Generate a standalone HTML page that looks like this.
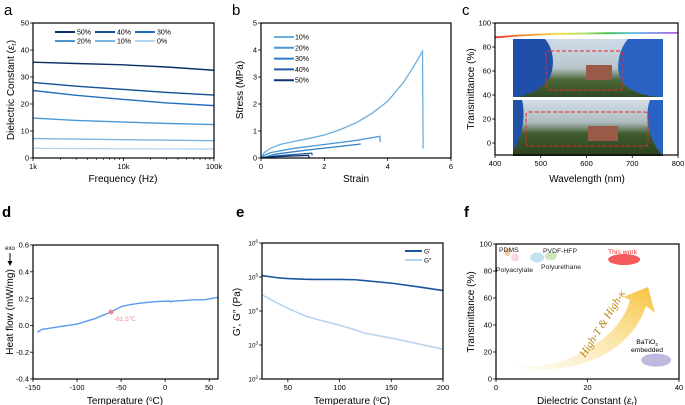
<!DOCTYPE html>
<html><head><meta charset="utf-8"><style>
html,body{margin:0;padding:0;background:#fff}
svg{display:block;font-family:"Liberation Sans",Arial,sans-serif}
</style></head><body>
<svg id="fig" width="685" height="405" viewBox="0 0 685 405" xmlns="http://www.w3.org/2000/svg">
<defs>
<linearGradient id="rainbow" x1="0" x2="1" y1="0" y2="0">
<stop offset="0" stop-color="#e8302a"/><stop offset="0.2" stop-color="#f39a2a"/><stop offset="0.35" stop-color="#f2e43a"/><stop offset="0.5" stop-color="#a8dd6a"/><stop offset="0.62" stop-color="#3fbf4a"/><stop offset="0.75" stop-color="#62c0e8"/><stop offset="0.88" stop-color="#8a8ee8"/><stop offset="1" stop-color="#b060e0"/>
</linearGradient>
<linearGradient id="photoTop" x1="0" x2="0" y1="0" y2="1">
<stop offset="0" stop-color="#cfdbe8"/><stop offset="0.5" stop-color="#b9c6cc"/><stop offset="0.7" stop-color="#4d6a3a"/><stop offset="1" stop-color="#2f4a24"/>
</linearGradient>
<linearGradient id="photoBot" x1="0" x2="0" y1="0" y2="1">
<stop offset="0" stop-color="#d3dee8"/><stop offset="0.4" stop-color="#aebbbf"/><stop offset="0.6" stop-color="#3f5c2e"/><stop offset="1" stop-color="#2a4220"/>
</linearGradient>
<linearGradient id="arrowGrad" x1="0" x2="1" y1="1" y2="0">
<stop offset="0" stop-color="#fdf3d6" stop-opacity="0.3"/><stop offset="1" stop-color="#f6c23a"/>
</linearGradient>
</defs>
<g id="root"></g>
</svg>
<script>
// ---------- data ----------
// panel a
const aFreq = [1000, 3000, 10000, 30000, 100000];
const aSeriesNames = ["50%", "40%", "30%", "20%", "10%", "0%"];
const a50 = [35.5, 35.0, 34.5, 33.7, 32.5];
const a40 = [28.0, 26.6, 25.4, 24.3, 23.3];
const a30 = [25.0, 23.2, 21.7, 20.4, 19.4];
const a20 = [14.8, 13.9, 13.3, 12.8, 12.4];
const a10 = [7.2, 7.0, 6.8, 6.6, 6.4];
const a0 = [3.6, 3.5, 3.4, 3.35, 3.3];
const aYTicks = [0, 10, 20, 30, 40, 50];
const aXTickLabels = ["1k", "10k", "100k"];
// panel b
const bNames = ["10%", "20%", "30%", "40%", "50%"];
const b10x = [0, 0.1, 0.3, 0.6, 1.0, 1.5, 2.0, 2.5, 3.0, 3.5, 4.0, 4.5, 4.8, 5.1, 5.12];
const b10y = [0, 0.2, 0.36, 0.5, 0.6, 0.72, 0.85, 1.05, 1.3, 1.65, 2.1, 2.8, 3.35, 3.95, 0.35];
const b20x = [0, 0.1, 0.3, 1.0, 2.0, 3.0, 3.75, 3.77];
const b20y = [0, 0.1, 0.2, 0.35, 0.5, 0.65, 0.8, 0.6];
const b30x = [0, 0.5, 1.5, 2.5, 3.15];
const b30y = [0, 0.15, 0.3, 0.43, 0.52];
const b40x = [0, 0.5, 1.6, 1.62];
const b40y = [0, 0.08, 0.18, 0.1];
const b50x = [0, 0.5, 1.5, 1.52];
const b50y = [0, 0.05, 0.1, 0.0];
const bXTicks = [0, 2, 4, 6];
const bYTicks = [0, 1, 2, 3, 4, 5];
// panel c
const cWave = [400, 450, 500, 550, 600, 650, 700, 750, 800];
const cTrans = [88, 89.5, 90.5, 91, 91.3, 91.5, 91.6, 91.7, 91.8];
const cXTicks = [400, 500, 600, 700, 800];
const cYTicks = [0, 20, 40, 60, 80, 100];
// panel d
const dTemp = [-145, -140, -130, -120, -100, -80, -61.5, -50, -40, -30, -10, 5, 6, 8, 20, 30, 45, 60];
const dFlow = [-0.05, -0.03, -0.02, -0.01, 0.01, 0.05, 0.1, 0.14, 0.155, 0.165, 0.178, 0.182, 0.175, 0.18, 0.185, 0.19, 0.192, 0.21];
const dTg = [-61.5, 0.1];
const dXTicks = [-150, -100, -50, 0, 50];
const dYTicks = [-0.4, -0.2, 0.0, 0.2, 0.4, 0.6];
// panel e
const eTemp = [25, 40, 50, 65, 75, 100, 115, 125, 150, 175, 200];
const eGp = [1.1e5, 9.5e4, 9e4, 8.6e4, 8.5e4, 8.5e4, 8.3e4, 7.8e4, 6.6e4, 5.2e4, 4.0e4];
const eGpp = [3e4, 1.7e4, 1.2e4, 7.5e3, 6e3, 3.8e3, 2.8e3, 2.2e3, 1.6e3, 1.1e3, 7.5e2];
const eXTicks = [50, 100, 150, 200];
const eYExp = [2, 3, 4, 5, 6];
// panel f
const fNames = ["PDMS", "Polyacrylate", "Polyurethane", "PVDF-HFP", "This work", "BaTiO3"];
const fEps = [2.5, 4.2, 9, 12, 28, 35];
const fT = [94, 90, 90, 91, 88.5, 14];
const fXTicks = [0, 20, 40];
const fYTicks = [0, 20, 40, 60, 80, 100];

// ---------- helpers ----------
const NS = "http://www.w3.org/2000/svg";
const root = document.getElementById("root");
function el(tag, attrs, parent, text) {
  const e = document.createElementNS(NS, tag);
  for (const k in attrs) e.setAttribute(k, attrs[k]);
  if (text !== undefined) e.textContent = text;
  (parent || root).appendChild(e);
  return e;
}
function lin(d0, d1, r0, r1) { return v => r0 + (v - d0) / (d1 - d0) * (r1 - r0); }
function logS(d0, d1, r0, r1) { return v => r0 + (Math.log10(v) - Math.log10(d0)) / (Math.log10(d1) - Math.log10(d0)) * (r1 - r0); }
function pathD(xs, ys, sx, sy) { return xs.map((x, i) => (i ? "L" : "M") + sx(x).toFixed(2) + "," + sy(ys[i]).toFixed(2)).join(" "); }
function frame(g, x0, y0, x1, y1) {
  const r = el("rect", {x: x0, y: y0, width: x1 - x0, height: y1 - y0, fill: "none", stroke: "#000", "stroke-width": 1.2}, g);
  
  
}
function xTick(g, x, y, label) {
  el("line", {x1: x, x2: x, y1: y, y2: y + 3, stroke: "#000", "stroke-width": 0.8}, g);
  const t = el("text", {x: x, y: y + 11, "font-size": 7.5, "text-anchor": "middle"}, g, label);
  
  
}
function yTick(g, x, y, label) {
  el("line", {x1: x - 3, x2: x, y1: y, y2: y, stroke: "#000", "stroke-width": 0.8}, g);
  const t = el("text", {x: x - 4, y: y + 2.7, "font-size": 7.5, "text-anchor": "end"}, g, label);
  
  
}
function axTitles(g, xt, xx, xy, yt, yx, yy) {
  const a = el("text", {x: xx, y: xy, "font-size": 10, "text-anchor": "middle"}, g);
  a.innerHTML = xt;
  
  
  const b = el("text", {x: 0, y: 0, "font-size": 10, "text-anchor": "middle", transform: "translate(" + yx + "," + yy + ") rotate(-90)"}, g);
  b.innerHTML = yt;
  
  
}
function letter(g, t, x, y, bold) {
  const l = el("text", {x: x, y: y, "font-size": 15, "font-weight": bold ? "bold" : "normal"}, g, t);
  
  
}

// ---------- panel a ----------
(function () {
  const g = el("g", {});
  
  
  const X0 = 33, X1 = 214, Y0 = 23, Y1 = 158;
  const sx = logS(1000, 100000, X0, X1), sy = lin(0, 50, Y1, Y0);
  letter(g, "a", 4, 15, false);
  const cols = ["#0c2f66", "#144f98", "#2370bd", "#4b97d4", "#7ab6e4", "#b5d5ef"];
  const series = [a50, a40, a30, a20, a10, a0];
  series.forEach((s, i) => {
    const p = el("path", {d: pathD(aFreq, s, sx, sy), fill: "none", stroke: cols[i], "stroke-width": 1.4}, g);
    
    
  });
  aSeriesNames.forEach((n, i) => {
    const lx = 55 + (i % 3) * 40, ly = 32 + Math.floor(i / 3) * 9;
    const l = el("line", {x1: lx, x2: lx + 20, y1: ly, y2: ly, stroke: cols[i], "stroke-width": 2}, g);
    
    
    const t = el("text", {x: lx + 22, y: ly + 2.5, "font-size": 7}, g, n);
    
    
  });
  frame(g, X0, Y0, X1, Y1);
  aYTicks.forEach(v => yTick(g, X0, sy(v), String(v)));
  [1000, 10000, 100000].forEach((v, i) => xTick(g, sx(v), Y1, aXTickLabels[i]));
  [2, 3, 4, 5, 6, 7, 8, 9].forEach(m => [1000, 10000].forEach(d => el("line", {x1: sx(m * d), x2: sx(m * d), y1: Y1, y2: Y1 + 2, stroke: "#000", "stroke-width": 0.6}, g)));
  axTitles(g, "Frequency (Hz)", 123, 182, "Dielectric Constant (<tspan font-style='italic'>ε</tspan><tspan font-size='7' dy='2'>r</tspan><tspan dy='-2'>)</tspan>", 14, 90);
})();

// ---------- panel b ----------
(function () {
  const g = el("g", {});
  
  
  const X0 = 261, X1 = 451, Y0 = 23, Y1 = 158;
  const sx = lin(0, 6, X0, X1), sy = lin(0, 5, Y1, Y0);
  letter(g, "b", 232, 15, false);
  const cols = ["#6aaee0", "#4a97d6", "#2f7dc6", "#1d5ca8", "#0c356f"];
  const xs = [b10x, b20x, b30x, b40x, b50x], ys = [b10y, b20y, b30y, b40y, b50y];
  xs.forEach((x, i) => {
    const p = el("path", {d: pathD(x, ys[i], sx, sy), fill: "none", stroke: cols[i], "stroke-width": 1.3}, g);
    
    
  });
  bNames.forEach((n, i) => {
    const ly = 37 + i * 10.8;
    const l = el("line", {x1: 274, x2: 294, y1: ly, y2: ly, stroke: cols[i], "stroke-width": 2}, g);
    
    
    const t = el("text", {x: 295, y: ly + 2.5, "font-size": 7}, g, n);
    
    
  });
  frame(g, X0, Y0, X1, Y1);
  bYTicks.forEach(v => yTick(g, X0, sy(v), String(v)));
  bXTicks.forEach(v => xTick(g, sx(v), Y1, String(v)));
  axTitles(g, "Strain", 356, 182, "Stress (MPa)", 243, 90);
})();

// ---------- panel c ----------
(function () {
  const g = el("g", {});
  
  
  const X0 = 495, X1 = 678, Y0 = 23, Y1 = 155;
  const sx = lin(400, 800, X0, X1), sy = lin(-10, 100, Y1, Y0);
  letter(g, "c", 462, 15, false);
  // photos
  const ph = el("g", {}, g);
  
  
  el("rect", {x: 513, y: 39, width: 150, height: 58, fill: "url(#photoTop)"}, ph);
  el("rect", {x: 513, y: 100, width: 150, height: 56, fill: "url(#photoBot)"}, ph);
  el("rect", {x: 586, y: 65, width: 26, height: 15, fill: "#9a5a48"}, ph);
  el("rect", {x: 588, y: 126, width: 30, height: 15, fill: "#9a5a48"}, ph);
  el("path", {d: "M513,39 L545,39 C555,50 555,70 548,80 C540,90 525,97 513,97 Z", fill: "#1f4fa8"}, ph);
  el("path", {d: "M663,39 L628,39 C618,50 615,70 622,82 C630,92 648,97 663,97 Z", fill: "#2a62c4"}, ph);
  el("path", {d: "M513,100 L522,100 C526,115 522,140 513,150 Z", fill: "#2050a8"}, ph);
  el("path", {d: "M663,100 L650,100 C644,115 648,140 663,156 Z", fill: "#2a62c4"}, ph);
  el("rect", {x: 546, y: 51, width: 77, height: 39, rx: 4, fill: "none", stroke: "#e52a2a", "stroke-width": 1, "stroke-dasharray": "4,2"}, ph);
  el("rect", {x: 526, y: 112, width: 122, height: 34, rx: 3, fill: "none", stroke: "#e52a2a", "stroke-width": 1, "stroke-dasharray": "4,2"}, ph);
  const tl = el("path", {d: pathD(cWave, cTrans, sx, sy), fill: "none", stroke: "url(#rainbow)", "stroke-width": 1.8}, g);
  
  
  frame(g, X0, Y0, X1, Y1);
  cYTicks.forEach(v => yTick(g, X0, sy(v), String(v)));
  cXTicks.forEach(v => xTick(g, sx(v), Y1, String(v)));
  axTitles(g, "Wavelength (nm)", 587, 182, "Transmittance (%)", 474, 89);
})();

// ---------- panel d ----------
(function () {
  const g = el("g", {});
  
  
  const X0 = 33, X1 = 218, Y0 = 245, Y1 = 379;
  const sx = lin(-150, 60, X0, X1), sy = lin(-0.4, 0.6, Y1, Y0);
  letter(g, "d", 2, 217, true);
  const p = el("path", {d: pathD(dTemp, dFlow, sx, sy), fill: "none", stroke: "#5a9aea", "stroke-width": 1.4}, g);
  
  
  const m = el("circle", {cx: sx(dTg[0]), cy: sy(dTg[1]), r: 2.5, fill: "#f08a8a"}, g);
  
  
  const mt = el("text", {x: sx(dTg[0]) + 3, y: sy(dTg[1]) + 9, "font-size": 6.5, fill: "#f08a8a"}, g, "-61.5℃");
  
  
  frame(g, X0, Y0, X1, Y1);
  dYTicks.forEach(v => yTick(g, X0, sy(v), v.toFixed(1)));
  dXTicks.forEach(v => xTick(g, sx(v), Y1, String(v)));
  axTitles(g, "Temperature (<tspan font-size='6' dy='-3'>o</tspan><tspan dy='3'>C)</tspan>", 125, 404, "Heat flow (mW/mg)", 13, 312);
  const ex = el("g", {}, g);
  
  
  el("text", {x: 10, y: 250, "font-size": 6, "text-anchor": "middle"}, ex, "exo");
  el("line", {x1: 10, x2: 10, y1: 253, y2: 263, stroke: "#000", "stroke-width": 1}, ex);
  el("path", {d: "M7.5,261 L12.5,261 L10,266 Z", fill: "#000"}, ex);
})();

// ---------- panel e ----------
(function () {
  const g = el("g", {});
  
  
  const X0 = 262, X1 = 443, Y0 = 243, Y1 = 379;
  const sx = lin(25, 200, X0, X1), sy = logS(100, 1e6, Y1, Y0);
  letter(g, "e", 236, 217, true);
  const p2 = el("path", {d: pathD(eTemp, eGpp, sx, sy), fill: "none", stroke: "#b9d4f1", "stroke-width": 1.6}, g);
  
  
  const p1 = el("path", {d: pathD(eTemp, eGp, sx, sy), fill: "none", stroke: "#1a55a0", "stroke-width": 1.6}, g);
  
  
  [["G'", "#1a55a0", 251], ["G''", "#b9d4f1", 260]].forEach(e => {
    const l = el("line", {x1: 405, x2: 422, y1: e[2], y2: e[2], stroke: e[1], "stroke-width": 2}, g);
    
    
    const t = el("text", {x: 424, y: e[2] + 2.5, "font-size": 6.5}, g, e[0].replace("''", "\u2033").replace("'", "\u2032"));
    
    
  });
  frame(g, X0, Y0, X1, Y1);
  eYExp.forEach(v => {
    const y = sy(Math.pow(10, v));
    el("line", {x1: X0 - 3, x2: X0, y1: y, y2: y, stroke: "#000", "stroke-width": 0.8}, g);
    const t = el("text", {x: X0 - 4, y: y + 2.5, "font-size": 6.5, "text-anchor": "end"}, g);
    t.innerHTML = "10<tspan font-size='4.5' dy='-3'>" + v + "</tspan>";
    
    
  });
  eXTicks.forEach(v => xTick(g, sx(v), Y1, String(v)));
  axTitles(g, "Temperature (<tspan font-size='6' dy='-3'>o</tspan><tspan dy='3'>C)</tspan>", 352, 404, "G′, G″ (Pa)", 240, 312);
})();

// ---------- panel f ----------
(function () {
  const g = el("g", {});
  
  
  const X0 = 496, X1 = 679, Y0 = 244, Y1 = 379;
  const sx = lin(0, 40, X0, X1), sy = lin(0, 100, Y1, Y0);
  letter(g, "f", 464, 217, true);
  const fills = ["#f5c49a", "#f8d2e4", "#bcdcee", "#c4e4b0", "#f44848", "#b8b0dc"];
  const rxs = [3, 4, 7, 6, 16, 15];
  const rys = [4, 4, 5, 4, 5.5, 6.5];
  fEps.forEach((v, i) => {
    const e = el("ellipse", {cx: sx(v), cy: sy(fT[i]), rx: rxs[i], ry: rys[i], fill: fills[i], opacity: 0.9}, g);
    
    
  });
  const ar = el("path", {d: "M505,365 C560,375 620,340 630,300 L623,297 L648,287 L655,313 L646,306 C630,355 570,380 505,365 Z", fill: "url(#arrowGrad)"}, g);
  
  
  const at = el("text", {x: 0, y: 0, "font-family": "'Liberation Serif',serif", "font-style": "italic", "font-size": 11, fill: "#b8860b", transform: "translate(585,358) rotate(-58)"}, g, "High-T & High-κ");
  
  
  const labs = [["PDMS", 499, 252, "start", "#222"], ["Polyacrylate", 496, 272, "start", "#222"], ["Polyurethane", 541, 269, "start", "#222"], ["PVDF-HFP", 543, 253, "start", "#222"], ["This work", 608, 254, "start", "#f42a2a"]];
  labs.forEach(l => {
    const t = el("text", {x: l[1], y: l[2], "font-size": 6.8, "text-anchor": l[3], fill: l[4]}, g, l[0]);
    
    
  });
  const bt = el("text", {x: 647, y: 344, "font-size": 6.8, "text-anchor": "middle"}, g);
  bt.innerHTML = "BaTiO<tspan font-size='4.5' dy='2'>3</tspan>";
  
  
  const bt2 = el("text", {x: 647, y: 352, "font-size": 6.8, "text-anchor": "middle"}, g, "embedded");
  
  
  frame(g, X0, Y0, X1, Y1);
  fYTicks.forEach(v => yTick(g, X0, sy(v), String(v)));
  fXTicks.forEach(v => xTick(g, sx(v), Y1, String(v)));
  axTitles(g, "Dielectric Constant (<tspan font-style='italic'>ε</tspan><tspan font-size='7' dy='2'>r</tspan><tspan dy='-2'>)</tspan>", 587, 404, "Transmittance (%)", 474, 312);
})();
</script>
</body></html>
